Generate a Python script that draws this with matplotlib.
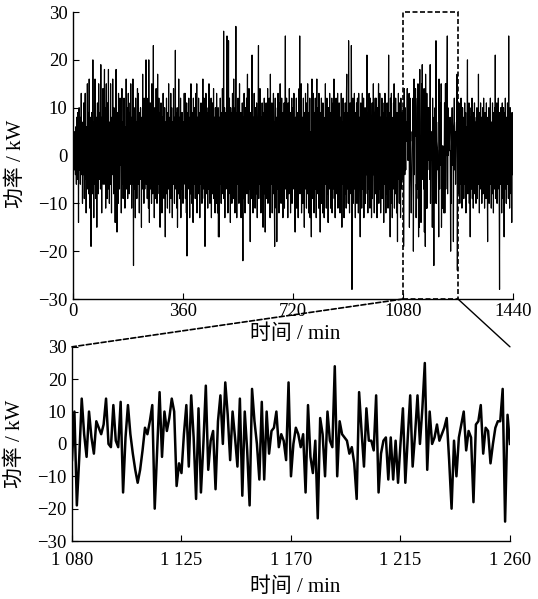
import numpy as np
import matplotlib
matplotlib.use('Agg')
import matplotlib.pyplot as plt
from matplotlib.patches import Rectangle, ConnectionPatch

plt.rcParams['font.family'] = ['Liberation Serif', 'Noto Sans CJK SC']
plt.rcParams['axes.unicode_minus'] = True

# 功率数据 / kW, 每分钟一个点 (0..1440 min)
power_0000_0359 = [
    1, 4, -2, 3, 0, -3, 5, 2, -4, 6, 1, -6, 8, 3, -5, 9, -2, 4, -14, 7,
    10, -3, 2, 8, -6, 5, 0, 13, -4, 4, 7, -10, 3, 1, -4, 11, 6, -9, 3, 9,
    13, -5, 2, -12, 6, 1, -3, 15, -7, 4, 9, -8, 2, 16, -2, -11, 5, 3, 8, -19,
    5, 9, -4, 6, -8, 20, -2, 4, -13, 7, 3, -6, 16, 0, 5, -9, 8, 2, -15, 6,
    11, -3, 1, -8, 15, 4, -5, 9, -1, 6, -7, 19, -1, 3, -12, 8, 3, -4, 14, -6,
    5, -2, 7, 18, -6, 2, 10, -11, 4, 15, -3, 1, -9, 11, 0, -4, 18, -7, 3, -10,
    7, 1, -6, 15, -2, 5, -12, 8, 3, -4, 16, -1, 4, -8, 10, 2, -5, 1, -14, 7,
    3, 18, -3, 5, -16, 9, -1, 2, -10, 13, -4, 6, -7, 1, 12, -2, 3, 8, -12, 4,
    14, -6, 2, 7, -9, 4, -1, 12, -5, 3, -11, 6, 1, -3, 16, -7, 8, 0, 10, -9,
    4, 13, -5, 2, -8, 9, -1, 11, -6, 15, 0, 5, -11, 8, 3, -6, 16, -3, -23, 6,
    10, -7, 3, 5, -13, 12, 1, -4, 7, -9, 2, 14, -2, -6, 13, 0, 5, -12, 9, 3,
    -5, 10, -1, 4, -15, 8, 2, -7, 17, -3, 6, 1, -10, 12, 3, -7, 9, -1, 5, 20,
    -6, 3, 12, -9, 5, -2, 10, -11, 20, 2, -14, 8, -2, 11, -7, 6, 1, -10, 15, -3,
    7, -8, 3, 23, -4, 9, -13, 2, 10, -5, 4, -9, 14, 0, 6, -10, 2, 17, -6, 8,
    -3, 12, -8, 2, 9, -15, 5, -1, 11, -4, 3, -12, 8, 1, -7, 13, -2, 6, -9, 4,
    10, -5, -17, 7, 2, -8, 12, -2, 4, -11, 9, 1, -7, 15, -3, 5, -12, 8, 3, -4,
    13, -9, 3, 10, -2, -13, 7, 1, -6, 14, -2, 8, -10, 4, 2, 22, -7, 9, -3, 6,
    -11, 10, -15, 3, 7, -8, 16, -2, 4, -9, 8, -5, 12, -13, 3, 1, -7, 9, -2, 5,
]
power_0360_0719 = [
    -10, 7, 3, -6, 13, -3, 8, 13, -9, 2, 4, -12, 11, -21, 6, -2, 9, -7, 1, 12,
    -4, 3, -13, 8, 2, -8, 15, -1, 5, -10, 9, -3, 2, -14, 12, 1, -6, 10, -2, 7,
    -9, 4, 13, -7, 3, 15, -12, 8, -2, 5, -8, 12, 1, -4, 9, -13, 3, 7, -6, 11,
    -2, 8, -10, 4, 2, 16, -7, 9, -3, 12, -9, 3, -19, 7, -2, 13, -8, 3, 10, -5,
    1, -11, 9, 4, -7, 15, -2, 6, -10, 8, 2, -4, 12, -13, 7, 1, -8, 11, -3, 4,
    14, -9, 3, 8, -6, -12, 10, -1, 5, -10, 13, -3, 7, -12, 2, 10, -17, 4, 3, -17,
    8, -6, 12, -2, 4, -10, 9, 1, -8, 14, -4, 7, -1, 26, -9, 3, 10, -13, 5, -1,
    9, -7, 3, 15, 25, -5, 8, -12, 4, 24, -8, 2, 12, -3, 6, -14, 10, 1, -6, 9,
    -10, 3, 13, -2, 5, -9, 16, -4, 8, 1, -12, 10, -2, 27, -7, 4, -13, 9, 3, -6,
    12, -3, 7, -10, 2, 15, -8, 4, -1, 9, -13, 6, 3, -7, 11, -4, -22, 8, 1, -9,
    13, -2, 5, -12, 3, 10, -6, 1, 12, -8, 4, 17, -3, 8, -10, 3, 14, -7, 2, -4,
    -18, 9, -2, 6, -9, 12, 21, -6, 3, -12, 8, 1, -7, 13, -3, 4, -11, 10, -1, 7,
    -8, 11, 3, -13, 6, -3, 12, 23, -9, 2, 7, -6, 14, -2, 4, -12, 8, 1, -7, 11,
    -3, 6, -15, 9, 2, -8, 12, -3, 4, -16, 8, -1, 11, -9, 3, 8, -5, 14, -10, 2,
    6, -7, 12, -2, 9, -13, 17, 1, -6, 8, -3, 11, -12, 4, 2, -8, 13, -3, 7, -10,
    -19, 6, 12, -4, 3, -11, 8, -18, 2, 10, -7, 13, -1, 4, -12, 11, 3, -6, 15, -2,
    7, -10, 2, 12, -8, 5, 1, -13, 9, 3, -4, 11, -11, 2, 8, 25, -7, 4, -2, 12,
    -9, 6, 1, -13, 11, -3, 7, -8, 14, 2, -6, 9, -12, 3, 8, -2, 12, -10, 4, 1,
]
power_0720_1079 = [
    10, -7, 3, 13, -4, 5, -10, -16, 8, 2, -3, 12, -11, 4, 7, -2, 9, -13, 3, -6,
    14, 1, 25, -8, 5, -2, 10, 15, -12, 7, -1, 8, -10, 3, 12, -6, 2, -15, 9, 4,
    -7, 13, -2, 6, -11, 11, 1, -8, 15, -3, 7, -12, 3, 9, -4, 12, -13, 5, 1, -8,
    -17, 10, 16, -6, 4, -9, 13, -2, 7, -12, 3, 9, -7, 12, -2, 5, -13, 8, 16, -4,
    10, -8, 2, 7, -11, 13, -3, 4, -1, -16, 9, 3, -7, 12, -10, 6, 1, -12, 11, 3,
    -4, 8, -13, 7, 2, -6, 15, -2, 9, -11, 4, 12, -8, 1, 6, -14, 10, -2, 7, -7,
    13, -3, 3, -11, 9, 5, -6, 12, -12, 2, 8, -7, 11, -2, 16, -9, 3, 7, -13, 6,
    -2, 12, 1, -8, 9, -4, 13, -11, 3, 6, -7, 11, -1, 4, -12, 8, 2, -10, 13, -3,
    -15, 7, 4, -6, 12, -2, 9, -13, 4, 1, -8, 11, -3, 6, -11, 13, 17, -7, 3, -4,
    9, -10, 24, -3, 7, -12, 4, 11, -6, 2, -8, 23, 4, -28, 8, -3, 12, -10, 5, 1,
    -7, 13, -2, 4, -13, 9, 3, -6, 11, -10, 3, 12, -4, 7, -12, 13, -3, 8, 1, -8,
    -17, 6, 11, -3, 9, -11, 3, 13, -7, 4, -2, 12, -13, 7, 1, -6, 10, -10, 3, 8,
    -4, 3, 21, -8, 6, -12, 9, 1, -7, 13, -3, 4, -11, 12, 2, -6, 8, -13, 3, 11,
    -9, 7, -1, 15, -4, 3, -12, 9, 5, 12, -8, 3, 12, -3, 7, -13, 10, 1, -6, 9,
    15, -10, 4, -3, 13, -7, 8, -12, 2, 6, -4, 12, -9, 3, 11, -2, 7, -14, 9, 3,
    -6, 13, -3, 8, -12, 4, 1, -8, 11, -2, 7, -11, 3, 21, -7, 9, -2, 5, -17, 12,
    3, -10, 13, -4, 8, -13, 6, 1, -7, 11, -3, 15, -11, 4, 2, -8, 12, -2, 7, -12,
    9, 4, -18, 8, -5, 13, -2, 4, -10, 11, -1, 7, -13, 12, 3, -7, 9, -4, 6, 2,
]
# 放大区间 1080..1260 min
power_1080_1260 = [
    -5, 10, -19, -4, 14, 3, -4, 10, 2, -3, 7, 5, 3, 6, 14, 0, -1, 12, 1, -1,
    13, -15, 2, 12, 3, -3, -8, -12, -8, -2, 5, 3, 7, 12, -20, -2, 16, -4, 10, 4,
    8, 14, 10, -13, -6, -9,
    3, 12, -7, 15, 2, -17, 11, -15, 0, 18, -8, 1, 4, -14, 7, 15, 0, 19, 9, -5,
    10, 2, -7, 14, -16, 10, -2, -19, 17, 7, 0, -11, 13, -11, 10, -3, 4, 5, 10, -1,
    3, 1, -5, 19, -10,
    0, 5, 3, -1, 3, -15, 12, -4, -9, 1, -23, 8, 3, -10, 10, 1, -1, 24, -10, 7,
    3, 2, 1, -3, -1, -6, -17, 16, 4, -7, 11, 1, 1, -2, 15, -15, -3, 1, 2, -11,
    2, -11, 1, -12, 0, 11, -12, 2, 15, -7,
    3, 15, 0, 11, 25, -8, 10, 0, 2, 6, 1, 3, 5, 8, -5, -20, 1, -10, 2, 6,
    10, -2, 4, 2, -18, 6, 7, 12, -3, 5, 4, -6, 0, 5, 7, 7, 17, -24, 9, 0,
]
power_1261_1440 = [
    6, -8, 11, -3, 4, -10, 9, 2, -6, 12, -4, 6, -11, 3, 10, -7, 1, 8, -9, 4,
    -2, 11, -6, 3, 9, -12, 6, 1, -5, 10, 20, -8, 3, 7, -4, 11, -10, 5, 2, -17,
    8, -3, 10, -7, 4, 12, -9, 1, 6, -11, 9, -5, 3, 11, -8, 7, -2, 5, -10, 8,
    -4, 10, -9, 2, 7, -6, 17, -3, 5, -12, 9, 1, -7, 11, -5, 4, 8, -10, 6, -2,
    10, -8, 3, 12, -6, 5, -11, 9, 0, -4, 7, -9, 11, -3, 6, -7, -18, 8, 2, -5,
    10, -10, 4, 9, -6, 12, -2, 5, -11, 7, 1, -8, 11, -4, 6, -12, 9, 3, -7, 10,
    -5, 21, -9, 4, 8, -3, 11, -10, 6, 1, -7, 12, -4, 7, -11, -28, 9, 3, -6, 10,
    -2, 5, -12, 8, 11, -5, 4, -9, 10, 0, -17, 9, 3, -7, 12, -4, 6, -10, 8, 2,
    -6, 11, -3, 7, -9, 25, -5, 8, -11, 4, 10, -2, 6, -8, 3, -14, 9, -4, 5, 0,
]

seg_lens = [len(power_0000_0359), len(power_0360_0719), len(power_0720_1079),
            len(power_1080_1260), len(power_1261_1440)]
assert seg_lens == [360, 360, 360, 181, 180], seg_lens

power = np.array(power_0000_0359 + power_0360_0719 + power_0720_1079
                 + power_1080_1260 + power_1261_1440, dtype=float)
minutes = np.arange(len(power))

zoom_start, zoom_end = 1080, 1260
top_xticks = [0, 360, 720, 1080, 1440]
bottom_xticks = [1080, 1125, 1170, 1215, 1260]
bottom_xlabels = ['1 080', '1 125', '1 170', '1 215', '1 260']
yticks = [-30, -20, -10, 0, 10, 20, 30]

fig = plt.figure(figsize=(5.38, 5.99), dpi=100)
ax1 = fig.add_axes([0.1357, 0.5008, 0.8178, 0.4791])
ax2 = fig.add_axes([0.1338, 0.0968, 0.8141, 0.3242])

# 上图: 全天
ax1.plot(minutes, power, color='black', linewidth=0.85)
ax1.set_xlim(0, 1440)
ax1.set_ylim(-30, 30)
ax1.set_xticks(top_xticks)
ax1.set_yticks(yticks)
ax1.set_xlabel('时间 / min', fontsize=15)
ax1.set_ylabel('功率 / kW', fontsize=15)
ax1.xaxis.set_label_coords(0.505, -0.09)
ax1.yaxis.set_label_coords(-0.108, 0.47)
ax1.add_patch(Rectangle((zoom_start, -30), zoom_end - zoom_start, 60,
                        fill=False, edgecolor='black', linestyle=(0, (3, 1.5)),
                        linewidth=1.2, clip_on=False, zorder=5))

# 下图: 放大
sel = (minutes >= zoom_start) & (minutes <= zoom_end)
ax2.plot(minutes[sel], power[sel], color='black', linewidth=1.8)
ax2.set_xlim(zoom_start, zoom_end)
ax2.set_ylim(-30, 30)
ax2.set_xticks(bottom_xticks)
ax2.set_xticklabels(bottom_xlabels)
ax2.set_yticks(yticks)
ax2.set_xlabel('时间 / min', fontsize=15)
ax2.set_ylabel('功率 / kW', fontsize=15)
ax2.xaxis.set_label_coords(0.51, -0.185)
ax2.yaxis.set_label_coords(-0.108, 0.5)

for ax in (ax1, ax2):
    ax.spines['top'].set_visible(False)
    ax.spines['right'].set_visible(False)
    ax.spines['left'].set_linewidth(1.0)
    ax.spines['bottom'].set_linewidth(1.0)
    ax.tick_params(direction='in', length=4, width=0.8, labelsize=13.5)
    ax.tick_params(axis='y', pad=4)
ax1.tick_params(axis='x', pad=3)
ax2.tick_params(axis='x', pad=8)
ax2.spines['left'].set_linestyle((0, (2, 1)))

# 连接线
con1 = ConnectionPatch(xyA=(zoom_start, -30), coordsA=ax1.transData,
                       xyB=(zoom_start, 30), coordsB=ax2.transData,
                       color='black', linestyle=(0, (3, 1.5)), linewidth=1.2)
con2 = ConnectionPatch(xyA=(zoom_end, -30), coordsA=ax1.transData,
                       xyB=(zoom_end, 30), coordsB=ax2.transData,
                       color='black', linewidth=1.0)
fig.add_artist(con1)
fig.add_artist(con2)

plt.savefig('out.png', dpi=100)
